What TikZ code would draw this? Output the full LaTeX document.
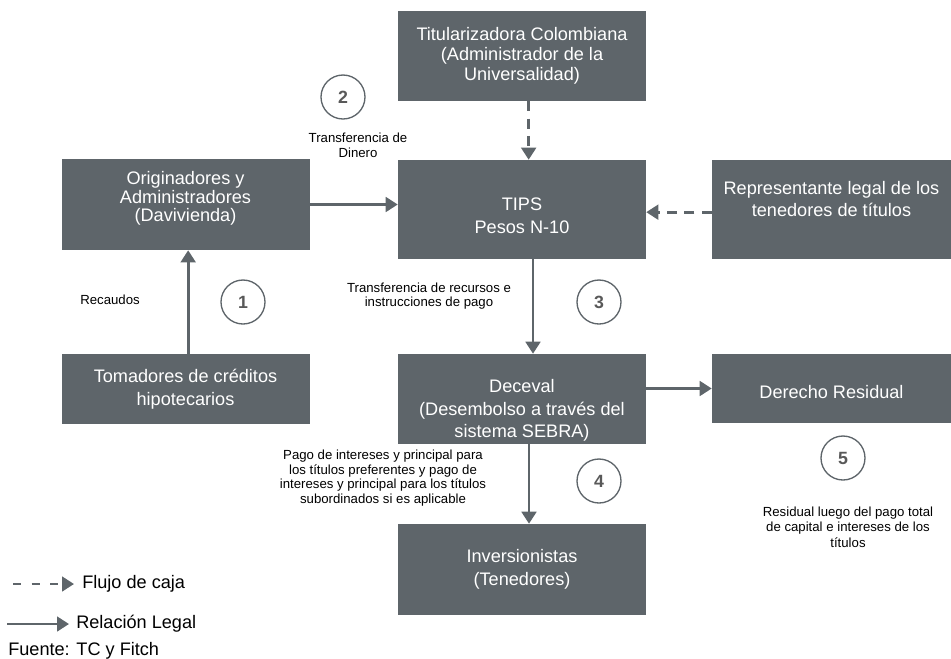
\documentclass[tikz,border=0pt]{standalone}
\usepackage{fontspec}
\setmainfont{Liberation Sans}
\usetikzlibrary{arrows.meta}
\definecolor{boxgray}{RGB}{94,101,106}
\definecolor{numgray}{RGB}{89,89,89}
\tikzset{
    boxtext/.style={text=white, align=center, inner sep=0pt, font=\fontsize{13.6}{16.9}\selectfont},
    box/.style={boxtext, fill=boxgray, minimum width=186pt},
    numcirc/.style={circle, draw=boxgray, line width=1pt, fill=white, minimum size=33pt,
        inner sep=0pt, text=numgray, font=\fontsize{13.3}{14}\selectfont\bfseries},
    note/.style={align=center, font=\fontsize{9.9}{10.9}\selectfont},
    legend/.style={anchor=west, inner sep=0pt, font=\fontsize{13.6}{16}\selectfont},
    legal/.style={line width=2pt, draw=boxgray, -{Triangle[length=9pt,width=11pt]}},
    flow/.style={legal, dash pattern=on 7.5pt off 5.5pt},
}
\begin{document}
\begin{tikzpicture}[x=0.75pt, y=-0.75pt]
    \useasboundingbox (0,0) rectangle (951,658);

    % Cajas de la columna central
    \node[box, minimum height=67.5pt, font=\fontsize{13.6}{15}\selectfont] (titu) at (522,56)
        {Titularizadora Colombiana\\(Administrador de la\\Universalidad)};
    \node[box, minimum height=74.25pt,
        label={[boxtext, yshift=-4.5pt]center:TIPS\\Pesos N-10}] (tips) at (522,209.5) {};
    \node[box, minimum height=67.5pt,
        label={[boxtext, yshift=-8.5pt]center:Deceval\\(Desembolso a través del\\sistema SEBRA)}]
        (dece) at (522,399) {};
    \node[box, minimum height=68.25pt] (inve) at (522,569.5) {Inversionistas\\(Tenedores)};

    % Cajas de la izquierda
    \node[box, minimum height=68.25pt,
        label={[boxtext, yshift=4.5pt, font=\fontsize{13.6}{13.75}\selectfont]center:Originadores y\\Administradores\\(Davivienda)}]
        (orig) at (185.5,204.5) {};
    \node[box, minimum height=52.5pt] (toma) at (185.5,389) {Tomadores de créditos\\hipotecarios};

    % Cajas de la derecha
    \node[box, minimum width=179.25pt, minimum height=74.25pt,
        label={[boxtext, yshift=8pt]center:Representante legal de los\\tenedores de títulos}]
        (repr) at (831.5,209.5) {};
    \node[box, minimum width=179.25pt, minimum height=51.75pt,
        label={[boxtext, yshift=-2.5pt]center:Derecho Residual}] (dere) at (831.5,388.5) {};

    % Flujos de caja
    \draw[flow] ([xshift=5pt]titu.south) -- ([xshift=5pt]tips.north);
    \draw[flow] ([yshift=-2pt]repr.west) -- ([yshift=-2pt]repr.west -| tips.east);

    % Relaciones legales
    \draw[legal] ([xshift=2pt]toma.north) -- ([xshift=2pt]toma.north |- orig.south);
    \draw[legal] (orig.east) -- (orig.east -| tips.west);
    \draw[legal] ([xshift=8.25pt]tips.south) -- ([xshift=8.25pt]dece.north);
    \draw[legal] ([xshift=5.25pt]dece.south) -- ([xshift=5.25pt]inve.north);
    \draw[legal] (dece.east |- dere.west) -- (dere.west);

    % Pasos numerados
    \foreach \n/\x/\y in {1/243/302, 2/343/97, 3/599/302, 4/599/481, 5/843/458} {
        \node[numcirc] (paso\n) at (\x,\y) {\n};
    }

    % Notas
    \node[note] (dinero) at (358,145.5) {Transferencia de\\Dinero};
    \node[note] (recaudos) at (110,300) {Recaudos};
    \node[note] (recursos) at (429,296) {Transferencia de recursos e\\instrucciones de pago};
    \node[note] (pago) at (383,478) {Pago de intereses y principal para\\los títulos preferentes y pago de\\intereses y principal para los títulos\\subordinados si es aplicable};
    \node[note, font=\fontsize{9.9}{11.6}\selectfont] (residual) at (848,527)
        {Residual luego del pago total\\de capital e intereses de los\\títulos};

    % Leyenda
    \coordinate (flujo0) at (13,584);
    \coordinate (flujo1) at (74,584);
    \draw[flow, dash pattern=on 6pt off 8pt] (flujo0) -- (flujo1);
    \node[legend] (flujo) at (82,584) {Flujo de caja};
    \coordinate (legal0) at (7,624);
    \coordinate (legal1) at (69,624);
    \draw[legal] (legal0) -- (legal1);
    \node[legend] (relacion) at (76,624) {Relación Legal};
    \node[legend] (fuente) at (8,651) {Fuente: TC y Fitch};
\end{tikzpicture}
\end{document}
